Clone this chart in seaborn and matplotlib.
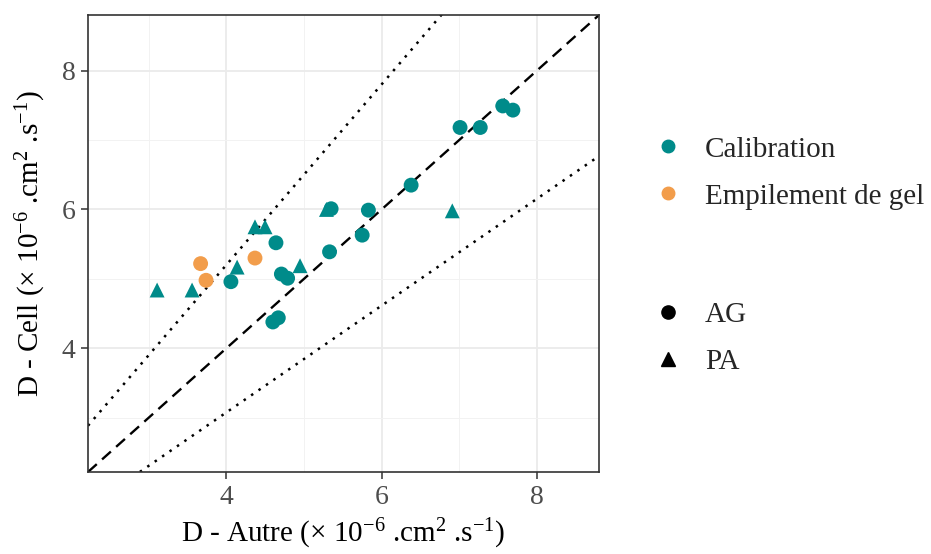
import matplotlib
matplotlib.use("Agg")
import matplotlib.pyplot as plt
from matplotlib.lines import Line2D
from matplotlib.ticker import MultipleLocator
import numpy as np
import pandas as pd
import seaborn as sns

sns.set_theme(style="white")
plt.rcParams["font.family"] = ["Liberation Serif", "DejaVu Serif"]
plt.rcParams["mathtext.fontset"] = "custom"
plt.rcParams["mathtext.rm"] = "Liberation Serif"
plt.rcParams["mathtext.it"] = "Liberation Serif:italic"

# ── données ──────────────────────────────────────────────────────────────────
d_autre = [4.06, 4.64, 4.71, 4.79, 4.60, 4.67, 5.35, 5.33, 5.75, 5.83,
           6.38, 7.01, 7.27, 7.56, 7.69,
           3.11, 3.56, 4.14, 4.37, 4.50, 4.95, 5.29, 6.91,
           3.67, 3.74, 4.37]
d_cell = [4.96, 5.52, 5.07, 5.01, 4.38, 4.44, 6.01, 5.39, 5.63, 5.99,
          6.35, 7.18, 7.18, 7.49, 7.43,
          4.84, 4.84, 5.17, 5.75, 5.75, 5.19, 6.00, 5.98,
          5.22, 4.98, 5.30]
source = ["Calibration"] * 23 + ["Empilement de gel"] * 3
gel = ["AG"] * 15 + ["PA"] * 8 + ["AG"] * 3

sources = ["Calibration", "Empilement de gel"]
gels = ["AG", "PA"]
palette = {"Calibration": "#008B8A", "Empilement de gel": "#F29D4B"}
markers = {"AG": "o", "PA": "^"}

df = pd.DataFrame({"autre": d_autre, "cell": d_cell, "source": source, "gel": gel})

fig = plt.figure(figsize=(9.31, 5.54), dpi=100)
ax = fig.add_axes([0.0945, 0.148, 0.549, 0.825])

lims = (2.22, 8.80)
xx = np.array(lims)
ax.plot(xx, xx, color="black", ls=(0, (5, 3)), lw=1.7, zorder=1)
ax.plot(xx, xx * 1.3, color="black", ls=(0, (1, 2.6)), lw=1.8, zorder=1)
ax.plot(xx, xx / 1.3, color="black", ls=(0, (1, 2.6)), lw=1.8, zorder=1)

sns.scatterplot(data=df, x="autre", y="cell", hue="source", style="gel",
                palette=palette, markers=markers, s=115, linewidth=0,
                legend=False, ax=ax, zorder=3)

ax.set_xlim(lims)
ax.set_ylim(lims)
ax.xaxis.set_major_locator(MultipleLocator(2))
ax.yaxis.set_major_locator(MultipleLocator(2))
ax.xaxis.set_minor_locator(MultipleLocator(1))
ax.yaxis.set_minor_locator(MultipleLocator(1))
ax.grid(which="major", color="#EBEBEB", lw=1.3, zorder=0)
ax.grid(which="minor", color="#F2F2F2", lw=0.7, zorder=0)
ax.set_axisbelow(True)
for sp in ax.spines.values():
    sp.set_color("#333333")
    sp.set_linewidth(1.2)
ax.tick_params(which="major", length=5, width=1.1, color="#333333", pad=4,
               labelsize=20, labelcolor="#4D4D4D", left=True, bottom=True)
ax.tick_params(which="minor", length=0)

ax.set_xlabel(r"D - Autre ($\times$ 10$^{-6}$ .cm$^{2}$ .s$^{-1}$)", fontsize=21,
              color="black", labelpad=5)
ax.set_ylabel(r"D - Cell ($\times$ 10$^{-6}$ .cm$^{2}$ .s$^{-1}$)", fontsize=21,
              color="black", labelpad=10)

h1 = [Line2D([], [], ls="", marker="o", ms=9, color=palette[s]) for s in sources]
fig.legend(h1, sources, loc="upper left", bbox_to_anchor=(0.702, 0.754),
           frameon=False, fontsize=21, borderpad=0, borderaxespad=0,
           handlelength=1, handletextpad=0.77, labelspacing=0.7)
h2 = [Line2D([], [], ls="", marker=markers[g], ms=9.5, color="black") for g in gels]
fig.legend(h2, gels, loc="upper left", bbox_to_anchor=(0.702, 0.455),
           frameon=False, fontsize=21, borderpad=0, borderaxespad=0,
           handlelength=1, handletextpad=0.77, labelspacing=0.7)

fig.savefig("out.png", dpi=100)
